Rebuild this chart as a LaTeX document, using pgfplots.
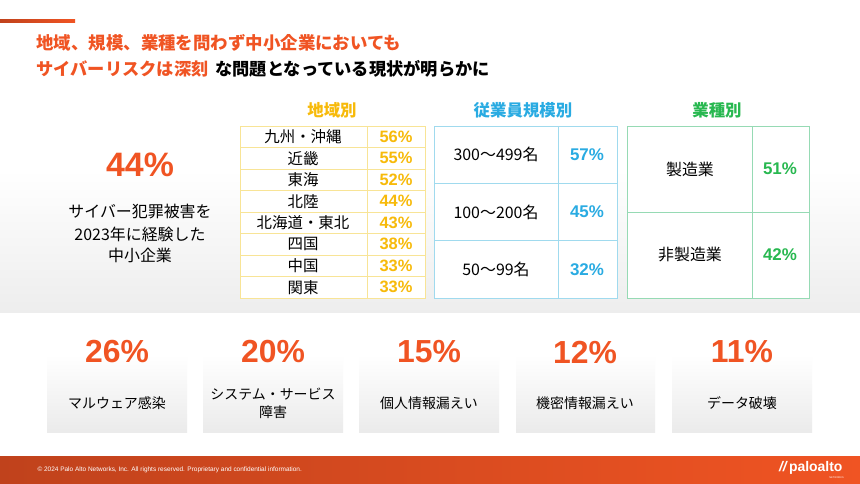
\documentclass[border=0pt]{standalone}
\usepackage{pgfplots}
\pgfplotsset{compat=1.18}
\usepackage{pgfplotstable}
\usepackage{fontspec}
\setmainfont{Liberation Sans}
\newfontfamily\jp{Noto Sans CJK JP}
\definecolor{po}{RGB}{240,84,35}
\definecolor{podark}{RGB}{192,66,28}
\definecolor{gold}{RGB}{247,186,10}
\definecolor{goldline}{RGB}{248,228,150}
\definecolor{cy}{RGB}{41,171,226}
\definecolor{cyline}{RGB}{160,218,238}
\definecolor{gr}{RGB}{40,184,80}
\definecolor{grline}{RGB}{150,218,180}

\pgfplotstableread[col sep=comma]{
y,label,value
136.75,九州・沖縄,56
158.25,近畿,55
179.75,東海,52
201.25,北陸,44
222.75,北海道・東北,43
244.25,四国,38
265.75,中国,33
287.25,関東,33
}\regiondata
\pgfplotstableread[col sep=comma]{
y,label,value
154.7,300～499名,57
212,100～200名,45
269.3,50～99名,32
}\sizedata
\pgfplotstableread[col sep=comma]{
y,label,value
169,製造業,51
255,非製造業,42
}\industrydata
\pgfplotstableread[col sep=comma]{
x,value
117,26
273,20
429,15
585,12
742,11
}\damagedata
\pgfplotstableread[col sep=comma]{
x,y,label
117,403,マルウェア感染
273,394,システム・サービス
273,412,障害
429,403,個人情報漏えい
585,403,機密情報漏えい
742,403,データ破壊
}\damagelabels
\pgfplotstableread[col sep=comma]{
x,y,value
140,165,44
}\totaldata

\begin{document}
\begin{tikzpicture}
\begin{axis}[
  scale only axis, width=860bp, height=483bp,
  xmin=0, xmax=860, ymin=0, ymax=483, y dir=reverse,
  hide axis, clip=false,
  /pgf/number format/assume math mode=true,
  every node near coord/.append style={anchor=center, inner sep=0pt},
]
% backgrounds
\fill[white] (0,0) rectangle (860,483);
\shade[top color=white, bottom color=black!7] (0,170) rectangle (860,312);
\shade[left color=podark, right color=po] (0,456) rectangle (860,483);
\shade[left color=podark, right color=po] (0,19.5) rectangle (75,22.5);
% cards
\shade[top color=white, bottom color=black!8] (47,355) rectangle (187,432);
\shade[top color=white, bottom color=black!8] (203,355) rectangle (343,432);
\shade[top color=white, bottom color=black!8] (359,355) rectangle (499,432);
\shade[top color=white, bottom color=black!8] (516,355) rectangle (655,432);
\shade[top color=white, bottom color=black!8] (672,355) rectangle (812,432);
% title
\node[anchor=west, text=po, font=\jp\bfseries\fontsize{17.5}{20}\selectfont] at (33,43) {地域、規模、業種を問わず中小企業においても};
\node[anchor=west, font=\jp\bfseries\fontsize{17.3}{20}\selectfont] at (33,69) {\textcolor{po}{サイバーリスクは深刻}\hspace{0.4em}な問題となっている現状が明らかに};
% headers
\node[text=gold, font=\jp\bfseries\fontsize{16.5}{18}\selectfont] at (332,110) {地域別};
\node[text=cy, font=\jp\bfseries\fontsize{16.5}{18}\selectfont] at (523,110) {従業員規模別};
\node[text=gr, font=\jp\bfseries\fontsize{16.5}{18}\selectfont] at (717,110) {業種別};
% region table
\fill[white] (240,126) rectangle (425,298);
\draw[goldline, line width=0.9pt] (240,126) rectangle (425,298) (367,126) -- (367,298)
  (240,147.5) -- (425,147.5) (240,169) -- (425,169) (240,190.5) -- (425,190.5)
  (240,212) -- (425,212) (240,233.5) -- (425,233.5) (240,255) -- (425,255) (240,276.5) -- (425,276.5);
% size table
\fill[white] (434,126) rectangle (617,298);
\draw[cyline, line width=0.9pt] (434,126) rectangle (617,298) (558,126) -- (558,298)
  (434,183.3) -- (617,183.3) (434,240.7) -- (617,240.7);
% industry table
\fill[white] (627,126) rectangle (809,298);
\draw[grline, line width=0.9pt] (627,126) rectangle (809,298) (752,126) -- (752,298)
  (627,212) -- (809,212);
% left text
\node[font=\jp\fontsize{16}{18}\selectfont] at (140,212) {サイバー犯罪被害を};
\node[font=\jp\fontsize{16}{18}\selectfont] at (140,234) {2023年に経験した};
\node[font=\jp\fontsize{16}{18}\selectfont] at (140,255) {中小企業};
% data
\addplot[draw=none, mark=none, nodes near coords={\pgfmathprintnumber{\pgfplotspointmeta}\%},
  point meta=explicit, nodes near coords style={text=po, font=\bfseries\fontsize{34}{36}\selectfont}]
  table[x=x, y=y, meta=value] {\totaldata};
\addplot[draw=none, mark=none, nodes near coords, point meta=explicit symbolic,
  nodes near coords style={text=black, font=\jp\fontsize{15.5}{17}\selectfont}]
  table[x expr=303, y=y, meta=label] {\regiondata};
\addplot[draw=none, mark=none, nodes near coords={\pgfmathprintnumber{\pgfplotspointmeta}\%},
  point meta=explicit, nodes near coords style={text=gold, font=\bfseries\fontsize{16.5}{18}\selectfont}]
  table[x expr=396, y=y, meta=value] {\regiondata};
\addplot[draw=none, mark=none, nodes near coords, point meta=explicit symbolic,
  nodes near coords style={text=black, font=\jp\fontsize{16}{18}\selectfont}]
  table[x expr=496, y=y, meta=label] {\sizedata};
\addplot[draw=none, mark=none, nodes near coords={\pgfmathprintnumber{\pgfplotspointmeta}\%},
  point meta=explicit, nodes near coords style={text=cy, font=\bfseries\fontsize{17}{19}\selectfont}]
  table[x expr=587, y=y, meta=value] {\sizedata};
\addplot[draw=none, mark=none, nodes near coords, point meta=explicit symbolic,
  nodes near coords style={text=black, font=\jp\fontsize{16}{18}\selectfont}]
  table[x expr=690, y=y, meta=label] {\industrydata};
\addplot[draw=none, mark=none, nodes near coords={\pgfmathprintnumber{\pgfplotspointmeta}\%},
  point meta=explicit, nodes near coords style={text=gr, font=\bfseries\fontsize{17}{19}\selectfont}]
  table[x expr=780, y=y, meta=value] {\industrydata};
\addplot[draw=none, mark=none, nodes near coords={\pgfmathprintnumber{\pgfplotspointmeta}\%},
  point meta=explicit, nodes near coords style={text=po, font=\bfseries\fontsize{32}{34}\selectfont}]
  table[x=x, y expr=352, meta=value] {\damagedata};
\addplot[draw=none, mark=none, nodes near coords, point meta=explicit symbolic,
  nodes near coords style={text=black, font=\jp\fontsize{14}{16}\selectfont}]
  table[x=x, y=y, meta=label] {\damagelabels};
% footer
\node[anchor=west, text=white, font=\fontsize{6.5}{8}\selectfont] at (34,470) {© 2024 Palo Alto Networks, Inc. All rights reserved. Proprietary and confidential information.};
\node[anchor=east, text=white, font=\bfseries\fontsize{14}{16}\selectfont] at (846,468) {\textit{//}\hspace{1pt}paloalto};
\node[anchor=east, text=white, font=\fontsize{2.5}{3}\selectfont, inner sep=0pt] at (844,477.5) {NETWORKS};
\end{axis}
\end{tikzpicture}
\end{document}
